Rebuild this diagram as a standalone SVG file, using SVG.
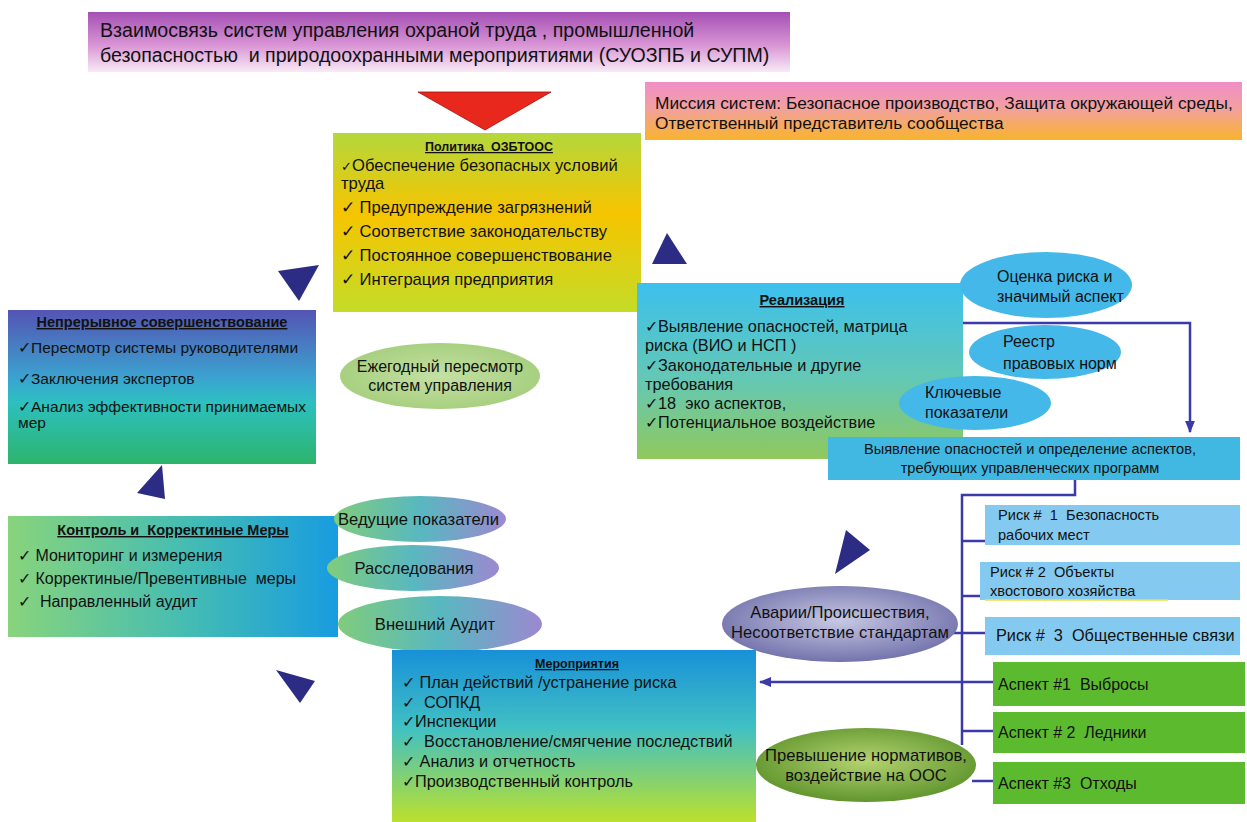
<svg xmlns="http://www.w3.org/2000/svg" width="1247" height="822" viewBox="0 0 1247 822" xml:space="preserve">
<defs>
<linearGradient id="gTitle" x1="0" y1="0" x2="0" y2="1"><stop offset="0" stop-color="#a450b4"/><stop offset="0.55" stop-color="#d894d4"/><stop offset="1" stop-color="#f8eaf6"/></linearGradient>
<linearGradient id="gMission" x1="0" y1="0" x2="0" y2="1"><stop offset="0" stop-color="#f08ec8"/><stop offset="0.45" stop-color="#f2a0a0"/><stop offset="1" stop-color="#f8b42c"/></linearGradient>
<linearGradient id="gPolicy" x1="0" y1="0" x2="0" y2="1"><stop offset="0" stop-color="#b4d83c"/><stop offset="0.45" stop-color="#f6c400"/><stop offset="1" stop-color="#c4dc28"/></linearGradient>
<linearGradient id="gCont" x1="0" y1="0" x2="0" y2="1"><stop offset="0" stop-color="#5454b4"/><stop offset="0.45" stop-color="#3aa4d0"/><stop offset="0.6" stop-color="#2cc0c0"/><stop offset="1" stop-color="#2cb46c"/></linearGradient>
<linearGradient id="gReal" x1="0" y1="0" x2="0" y2="1"><stop offset="0" stop-color="#3cc0ee"/><stop offset="0.55" stop-color="#64c8b4"/><stop offset="1" stop-color="#90c85c"/></linearGradient>
<linearGradient id="gCtrl" x1="0" y1="0" x2="1" y2="0"><stop offset="0" stop-color="#88d47c"/><stop offset="0.55" stop-color="#44bcb4"/><stop offset="1" stop-color="#189ce0"/></linearGradient>
<linearGradient id="gMer" x1="0" y1="0" x2="0" y2="1"><stop offset="0" stop-color="#1890d8"/><stop offset="0.45" stop-color="#40c0c4"/><stop offset="1" stop-color="#bce02c"/></linearGradient>
<radialGradient id="gEllG"><stop offset="0" stop-color="#c4e0a4"/><stop offset="1" stop-color="#a8d080"/></radialGradient>
<linearGradient id="gEllP" x1="0" y1="0" x2="1" y2="0"><stop offset="0" stop-color="#80cc7c"/><stop offset="0.5" stop-color="#58b8c0"/><stop offset="1" stop-color="#9c88d0"/></linearGradient>
<radialGradient id="gEllA" cx="0.5" cy="0.45" r="0.6"><stop offset="0" stop-color="#c8c8e4"/><stop offset="1" stop-color="#6c6ca8"/></radialGradient>
<radialGradient id="gEllN" cx="0.5" cy="0.45" r="0.6"><stop offset="0" stop-color="#b4d470"/><stop offset="1" stop-color="#5a9028"/></radialGradient>
<marker id="arr" viewBox="0 0 10 10" refX="9" refY="5" markerWidth="5" markerHeight="5" orient="auto"><path d="M0,1 L10,5 L0,9 z" fill="#3a3aa8"/></marker>
<style>
text{font-family:"Liberation Sans",Arial,sans-serif;fill:#111;white-space:pre;}
.big{font-size:19.6px;}
.mi{font-size:17.3px;}
.m{font-size:16.6px;}
.l{font-size:15.5px;}
.r{font-size:16.3px;}
.s{font-size:14.6px;}
.e{font-size:16px;}
.ep{font-size:16.6px;}
.hd{font-size:12.5px;font-weight:bold;text-decoration:underline;}
.hd2{font-size:14.5px;font-weight:bold;text-decoration:underline;}
.c{text-anchor:middle;}
.tri{fill:#2c2c84;}
.conn{stroke:#3a3aa8;stroke-width:2.5;fill:none;}
.blueE{fill:#44b8e8;}
.rbox{fill:#84caf0;}
.abox{fill:#5cba2e;}
</style>
</defs>
<rect width="1247" height="822" fill="#ffffff"/>
<g id="title"><rect x="88" y="12" width="702" height="60" fill="url(#gTitle)"/><text class="big" x="100" y="37">Взаимосвязь систем управления охраной труда , промышленной</text><text class="big" x="100" y="62">безопасностью  и природоохранными мероприятиями (СУОЗПБ и СУПМ)</text></g>
<g id="mission"><rect x="645" y="82" width="597" height="58" fill="url(#gMission)"/><text class="mi" x="655" y="109">Миссия систем: Безопасное производство, Защита окружающей среды,</text><text class="mi" x="655" y="129">Ответственный представитель сообщества</text></g>
<g id="triangles"><polygon points="418,92 551,92 485,130" fill="#e8281c" stroke="#a01010" stroke-width="0.8"/><polygon class="tri" points="278,271 319,265 299,301"/><polygon class="tri" points="667,233 652,264 687,264"/><polygon class="tri" points="162,465 137,493 165,499"/><polygon class="tri" points="846,530 870,550 835,574"/><polygon class="tri" points="276,670 315,681 300,703"/></g>
<g id="policy"><rect x="333" y="133" width="308" height="179" fill="url(#gPolicy)"/><text class="hd c" x="489" y="151">Политика  ОЗБТООС</text><text class="m" x="341" y="171"><tspan font-size="13">✓</tspan>Обеспечение безопасных условий</text><text class="m" x="341" y="189">труда</text><text class="m" x="341" y="213">✓ Предупреждение загрязнений</text><text class="m" x="341" y="237">✓ Соответствие законодательству</text><text class="m" x="341" y="261">✓ Постоянное совершенствование</text><text class="m" x="341" y="285">✓ Интеграция предприятия</text></g>
<g id="continuous"><rect x="8" y="310" width="308" height="154" fill="url(#gCont)"/><text class="hd2 c" x="162" y="327">Непрерывное совершенствование</text><text class="l" x="18" y="353">✓Пересмотр системы руководителями</text><text class="l" x="18" y="384">✓Заключения экспертов</text><text class="l" x="18" y="412">✓Анализ эффективности принимаемых</text><text class="l" x="18" y="428">мер</text></g>
<g id="annual"><ellipse cx="440" cy="376" rx="100" ry="33" fill="url(#gEllG)"/><text class="e c" x="440" y="372">Ежегодный пересмотр</text><text class="e c" x="440" y="391">систем управления</text></g>
<g id="realization"><rect x="637" y="283" width="326" height="176" fill="url(#gReal)"/><text class="hd2 c" x="802" y="305">Реализация</text><text class="r" x="645" y="332">✓Выявление опасностей, матрица</text><text class="r" x="645" y="351">риска (ВИО и НСП )</text><text class="r" x="645" y="371">✓Законодательные и другие</text><text class="r" x="645" y="390">требования</text><text class="r" x="645" y="409">✓18  эко аспектов,</text><text class="r" x="645" y="428">✓Потенциальное воздействие</text></g>
<g id="risk-eval"><ellipse class="blueE" cx="1046" cy="285" rx="86" ry="33"/><text class="e" x="997" y="282">Оценка риска и</text><text class="e" x="997" y="302">значимый аспект</text></g>
<g id="registry"><ellipse class="blueE" cx="1045" cy="352" rx="76" ry="27"/><text class="e" x="1003" y="347">Реестр</text><text class="e" x="1003" y="369">правовых норм</text></g>
<g id="key-ind"><ellipse class="blueE" cx="975" cy="403" rx="76" ry="27"/><text class="e" x="925" y="398">Ключевые</text><text class="e" x="925" y="418">показатели</text></g>
<g id="hazard-id"><rect x="828" y="437" width="412" height="43" fill="#40b8e2"/><text class="s c" x="1030" y="454">Выявление опасностей и определение аспектов,</text><text class="s c" x="1030" y="473">требующих управленческих программ</text></g>
<g id="control"><rect x="8" y="516" width="330" height="121" fill="url(#gCtrl)"/><text class="hd2 c" x="173" y="535">Контроль и  Корректиные Меры</text><text class="e" x="18" y="561">✓ Мониторинг и измерения</text><text class="e" x="18" y="584">✓ Корректиные/Превентивные  меры</text><text class="e" x="18" y="607">✓  Направленный аудит</text></g>
<g id="leading"><ellipse cx="420" cy="519" rx="86" ry="23" fill="url(#gEllP)"/><text class="ep" x="338" y="525">Ведущие показатели</text></g>
<g id="invest"><ellipse cx="413" cy="568" rx="86" ry="23" fill="url(#gEllP)"/><text class="ep c" x="414" y="574">Расследования</text></g>
<g id="ext-audit"><ellipse cx="440" cy="624" rx="102" ry="28" fill="url(#gEllP)"/><text class="ep c" x="435" y="630">Внешний Аудит</text></g>
<g id="measures"><rect x="392" y="650" width="364" height="172" fill="url(#gMer)"/><text class="hd c" x="577" y="668">Мероприятия</text><text class="r" x="402" y="688">✓ План действий /устранение риска</text><text class="r" x="402" y="708">✓  СОПКД</text><text class="r" x="402" y="727">✓Инспекции</text><text class="r" x="402" y="747">✓  Восстановление/смягчение последствий</text><text class="r" x="402" y="767">✓ Анализ и отчетность</text><text class="r" x="402" y="787">✓Производственный контроль</text></g>
<g id="connectors"><polyline class="conn" points="963,323 1190,323 1190,432" marker-end="url(#arr)"/><polyline class="conn" points="1075,480 1075,495 962,495 962,745"/><line class="conn" x1="962" y1="541" x2="985" y2="541"/><line class="conn" x1="962" y1="596" x2="980" y2="596"/><line class="conn" x1="952" y1="633" x2="985" y2="633"/><line class="conn" x1="993" y1="682" x2="760" y2="682" marker-end="url(#arr)"/><line class="conn" x1="962" y1="731" x2="993" y2="731"/><line class="conn" x1="972" y1="781" x2="993" y2="781"/></g>
<g id="risk1"><rect class="rbox" x="985" y="505" width="255" height="40"/><text class="s" x="998" y="520">Риск #  1  Безопасность</text><text class="s" x="998" y="540">рабочих мест</text></g>
<g id="risk2"><rect class="rbox" x="980" y="562" width="260" height="38"/><line x1="985" y1="600" x2="1168" y2="600" stroke="#f0e040" stroke-width="1.5"/><text class="s" x="990" y="577">Риск # 2  Объекты</text><text class="s" x="990" y="596">хвостового хозяйства</text></g>
<g id="risk3"><rect class="rbox" x="985" y="617" width="255" height="38"/><text class="r" x="996" y="641">Риск #  3  Общественные связи</text></g>
<g id="aspect1"><rect class="abox" x="993" y="662" width="252" height="44"/><text class="e" x="998" y="690">Аспект #1  Выбросы</text></g>
<g id="aspect2"><rect class="abox" x="993" y="712" width="252" height="41"/><text class="e" x="998" y="738">Аспект # 2  Ледники</text></g>
<g id="aspect3"><rect class="abox" x="993" y="762" width="252" height="42"/><text class="e" x="998" y="789">Аспект #3  Отходы</text></g>
<g id="accidents"><ellipse cx="840" cy="624" rx="118" ry="38" fill="url(#gEllA)"/><text class="ep c" x="840" y="618">Аварии/Происшествия,</text><text class="ep c" x="840" y="638">Несоответствие стандартам</text></g>
<g id="exceed"><ellipse cx="866" cy="765" rx="110" ry="37" fill="url(#gEllN)"/><text class="ep c" x="866" y="761">Превышение нормативов,</text><text class="ep c" x="866" y="781">воздействие на ООС</text></g>
</svg>
